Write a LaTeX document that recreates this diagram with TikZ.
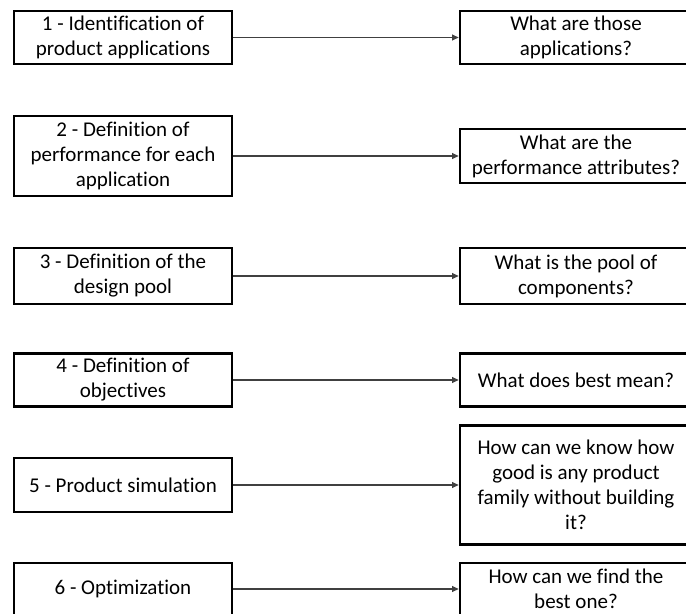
\documentclass[tikz,border=0pt]{standalone}
\usepackage{fontspec}
\setmainfont{Carlito}[Ligatures=NoCommon]
\usetikzlibrary{arrows.meta}

\begin{document}
\begin{tikzpicture}[x=0.75pt,y=-0.75pt,>={Triangle[length=5pt,width=4.5pt]},
  stepbox/.style={draw,line width=2pt,align=center,inner sep=2pt,
    font=\fontsize{15.75}{18.75}\selectfont},
  leftbox/.style={stepbox,minimum width=163.5pt},
  rightbox/.style={stepbox,minimum width=174pt},
  link/.style={->,line width=0.8pt,draw=black!75}]
  \useasboundingbox (0,0) rectangle (686,614);

  % row 1
  \node[leftbox,minimum height=39.75pt] (s1) at (123,37.5) {1 - Identification of\\product applications};
  \node[rightbox,minimum height=39.75pt] (q1) at (576,37.5) {What are those\\applications?};
  \draw[link] (s1) -- (q1);

  % row 2
  \node[leftbox,minimum height=60pt] (s2) at (123,156) {2 - Definition of\\performance for each\\application};
  \node[rightbox,minimum height=40.5pt] (q2) at (576,156) {What are the\\performance attributes?};
  \draw[link] (s2) -- (q2);

  % row 3
  \node[leftbox,minimum height=42pt] (s3) at (123,276) {3 - Definition of the\\design pool};
  \node[rightbox,minimum height=42pt] (q3) at (576,276) {What is the pool of\\components?};
  \draw[link] (s3) -- (q3);

  % row 4
  \node[leftbox,minimum height=39.75pt] (s4) at (123,380) {4 - Definition of\\objectives};
  \node[rightbox,minimum height=39.75pt] (q4) at (576,380) {What does best mean?};
  \draw[link] (s4) -- (q4);

  % row 5
  \node[leftbox,minimum height=40.5pt] (s5) at (123,485) {5 - Product simulation};
  \node[rightbox,minimum height=89.25pt] (q5) at (576,485) {How can we know how\\good is any product\\family without building\\it?};
  \draw[link] (s5) -- (q5);

  % row 6
  \node[leftbox,minimum height=39pt] (s6) at (123,589) {6 - Optimization};
  \node[rightbox,minimum height=39pt] (q6) at (576,589) {How can we find the\\best one?};
  \draw[link] (s6) -- (q6);
\end{tikzpicture}
\end{document}
